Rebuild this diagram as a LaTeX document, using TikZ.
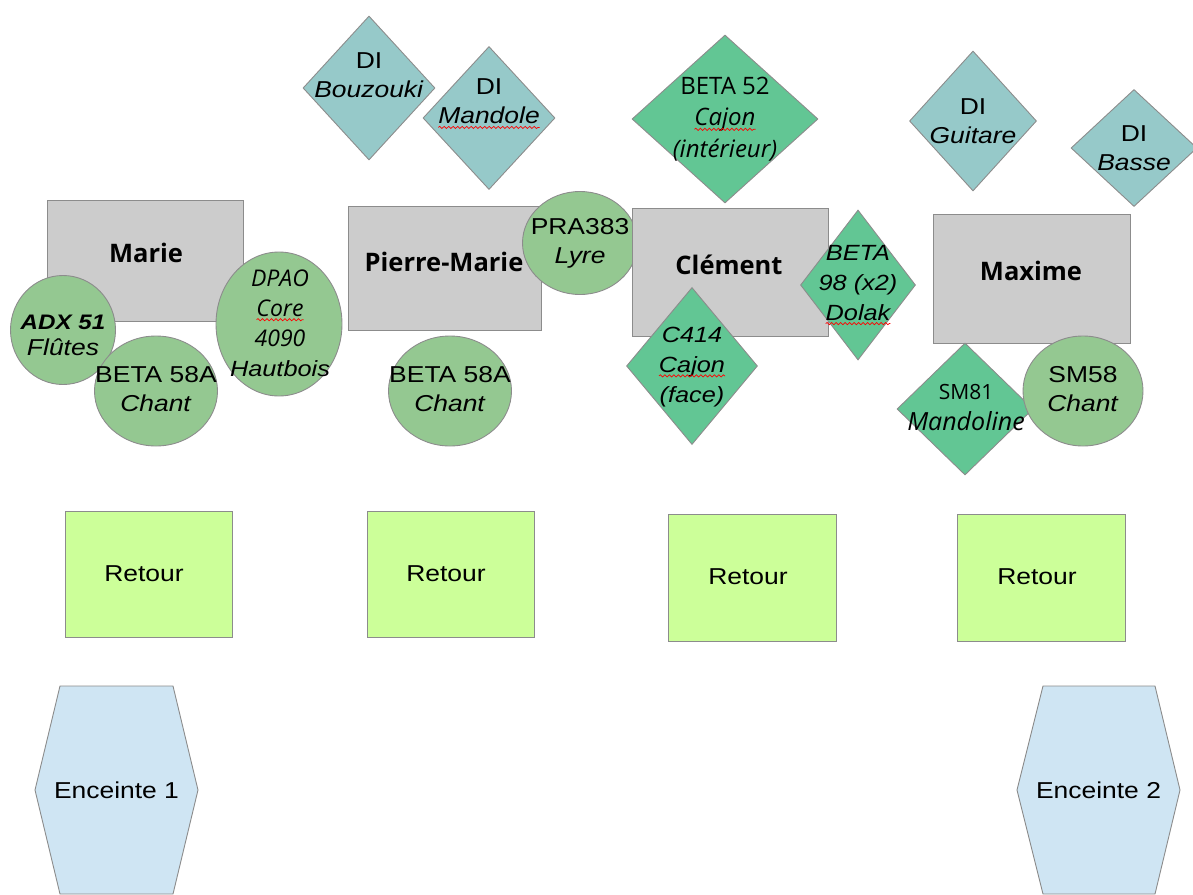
\documentclass[tikz,border=0pt]{standalone}
\usepackage{fontspec}
\setmainfont{Liberation Sans}[FakeStretch=1.15]
\newfontfamily\hum{Open Sans}
\usetikzlibrary{shapes.geometric,decorations.pathmorphing}
\newcommand\redwave[1]{\tikz[baseline=(w.base)]{\node[inner sep=0, outer sep=0] (w) {#1};
  \draw[red, line width=0.7pt, decorate, decoration={snake, amplitude=1.1pt, segment length=4.5pt}] ([yshift=-3.5pt]w.base west) -- ([yshift=-3.5pt]w.base east);}}
\definecolor{rectgray}{RGB}{204,204,204}
\definecolor{edgegray}{RGB}{140,140,140}
\definecolor{micgreen}{RGB}{148,200,145}
\definecolor{diagreen}{RGB}{98,198,148}
\definecolor{diteal}{RGB}{150,201,201}
\definecolor{retlime}{RGB}{204,255,153}
\definecolor{hexblue}{RGB}{207,229,243}
\tikzset{
  player/.style={draw=edgegray, fill=rectgray, line width=0.9pt, inner sep=0},
  mic/.style={ellipse, draw=edgegray, fill=micgreen, line width=0.9pt, inner sep=0},
  dimic/.style={diamond, draw=edgegray, fill=diagreen, line width=0.9pt, inner sep=0},
  dibox/.style={diamond, draw=edgegray, fill=diteal, line width=0.9pt, inner sep=0},
  retbox/.style={draw=edgegray, fill=retlime, line width=0.9pt, inner sep=0, minimum width=167, minimum height=126},
  hexa/.style={draw=edgegray, fill=hexblue, line width=0.9pt},
  txt/.style={align=center, inner sep=0, font=\fontsize{23}{29}\selectfont},
  htxt/.style={align=center, inner sep=0, font=\hum\fontsize{24}{31.5}\selectfont},
  pname/.style={inner sep=0, font=\hum\bfseries\fontsize{25.5}{30}\selectfont},
}
\newcommand\hsm{\hum\itshape\fontsize{23}{30}\selectfont}
\begin{document}
\begin{tikzpicture}[x=1pt,y=-1pt]
\useasboundingbox (0,0) rectangle (1193,894);
\clip (0,0) rectangle (1193,894);

% DI top
\node[dibox, minimum width=132, minimum height=144] (bouz) at (369,88) {};
\node[dibox, minimum width=132, minimum height=143] (mand) at (489,118) {};
\node[dimic, minimum width=186, minimum height=168] (beta52) at (725,119) {};
\node[dibox, minimum width=127, minimum height=140] (guit) at (973,121) {};
\node[dibox, minimum width=126, minimum height=117] (bass) at (1134,148) {};

% Marie
\node[player, minimum width=196, minimum height=121] (marie) at (145,260.5) {};
\node[mic, minimum width=105, minimum height=109] (adx) at (63,330) {};
\node[mic, minimum width=123, minimum height=110] (chm) at (156,391) {};
\node[mic, minimum width=126, minimum height=144] (dpao) at (279,324) {};

% Pierre-Marie
\node[player, minimum width=193, minimum height=124] (pm) at (444.5,268) {};
\node[mic, minimum width=115, minimum height=103] (pra) at (580,243) {};
\node[mic, minimum width=123, minimum height=110] (chpm) at (450,391) {};

% Clement
\node[player, minimum width=196, minimum height=128] (clem) at (730,272) {};
\node[dimic, minimum width=131, minimum height=157] (c414) at (692,366) {};
\node[dimic, minimum width=115, minimum height=150] (dolak) at (858,285) {};

% Maxime
\node[player, minimum width=197, minimum height=129] (max) at (1031.5,278.5) {};
\node[dimic, minimum width=136, minimum height=132] (sm81) at (965,409) {};
\node[mic, minimum width=120, minimum height=110] (sm58) at (1083,391) {};

% Retours
\node[retbox] (r1) at (148.5,574) {};
\node[retbox] (r2) at (450.5,574) {};
\node[retbox, minimum width=168, minimum height=127] (r3) at (752,577.5) {};
\node[retbox, minimum width=168, minimum height=127] (r4) at (1041.5,577.5) {};

% Enceintes
\draw[hexa] (60,686) -- (173,686) -- (198,790) -- (173,894) -- (60,894) -- (35,790) -- cycle;
\draw[hexa] (1043,686) -- (1155,686) -- (1180,790) -- (1155,894) -- (1043,894) -- (1017,790) -- cycle;
\coordinate (enc1) at (116.5,790);
\coordinate (enc2) at (1098.5,790);

% Texts
\node[txt] (tbouz) at ([yshift=13]bouz.center) {DI\\\textit{Bouzouki}};
\node[txt] (tmand) at ([yshift=14]mand.center) {DI\\\textit{\redwave{Mandole}}};
\node[htxt] (tbeta52) at (725,119) {BETA 52\\\textit{\redwave{Cajon}}\\\textit{(intérieur)}};
\node[txt] (tguit) at (guit.center) {DI\\\textit{Guitare}};
\node[txt] (tbass) at (bass.center) {DI\\\textit{Basse}};

\node[pname] (tmarie) at (146,253) {Marie};
\node[txt, font=\fontsize{23}{26}\selectfont] (tadx) at (63,335) {\bfseries\itshape\fontsize{21}{26}\selectfont ADX 51\\\textit{Flûtes}};
\node[txt] (tchm) at (156,389) {BETA 58A\\\textit{Chant}};
\node[txt, font=\fontsize{22}{30}\selectfont] (tdpao) at (280,323) {\hsm DPAO\\\hsm\redwave{Core}\\\hsm 4090\\\textit{Hautbois}};

\node[pname] (tpm) at (444,262) {Pierre-Marie};
\node[txt] (tpra) at (580,243) {PRA383\\\textit{Lyre}};
\node[txt] (tchpm) at (450,389) {BETA 58A\\\textit{Chant}};

\node[pname] (tclem) at (729,265) {Clément};
\node[txt, font=\fontsize{22}{30}\selectfont] (tc414) at (692,367) {\textit{C414}\\\textit{\redwave{Cajon}}\\\textit{(face)}};
\node[txt, font=\fontsize{22}{30}\selectfont] (tdolak) at (858,285) {\textit{BETA}\\\textit{98 (x2)}\\\textit{\redwave{Dolak}}};

\node[pname] (tmax) at (1031,271) {Maxime};
\node[htxt, font=\hum\fontsize{21}{31}\selectfont] (tsm81) at (966,408) {SM81\\\fontsize{25}{31}\selectfont\textit{Mandoline}};
\node[txt] (tsm58) at (1083,389) {SM58\\\textit{Chant}};

\node[txt] (tr1) at (144,574) {Retour};
\node[txt] (tr2) at (446,574) {Retour};
\node[txt] (tr3) at (748,577) {Retour};
\node[txt] (tr4) at (1037,577) {Retour};

\node[txt] (tenc1) at (enc1) {Enceinte 1};
\node[txt] (tenc2) at (enc2) {Enceinte 2};
\end{tikzpicture}
\end{document}
